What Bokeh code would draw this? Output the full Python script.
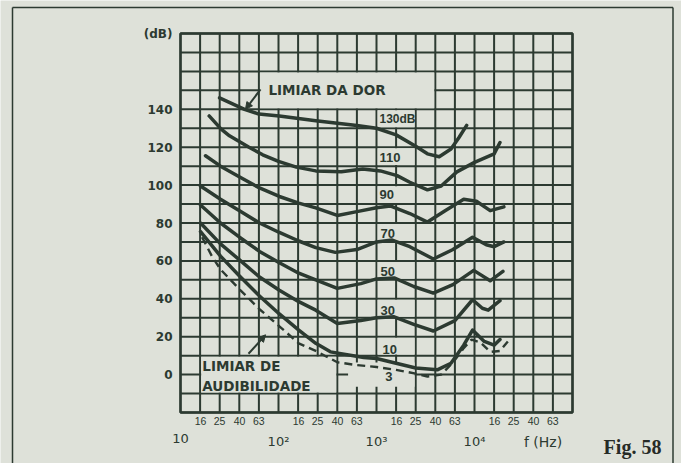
from bokeh.plotting import figure
from bokeh.models import Arrow, NormalHead
from bokeh.core.properties import value
from bokeh.embed import file_html
from bokeh.resources import INLINE

BG = "#dee1d9"
INK = "#2c3a31"

# ---------------- data (frequency in Hz, level in dB) ----------------
f_130 = [25, 45, 63, 102, 240, 631, 1000, 1585, 2512, 3311, 4365, 5754, 6918, 8318]
db_130 = [146, 140, 137.5, 136.5, 134, 131.5, 130, 126.5, 120.5, 116.5, 115, 119, 125, 131.5]

f_110 = [19.6, 26, 31.6, 50, 69, 100, 152, 240, 437, 724, 1096, 1622, 2188, 3311, 4571, 6607, 10000, 15849, 18197]
db_110 = [136.5, 129.5, 126, 120, 116, 112.5, 109.5, 107.5, 107, 108.5, 107.5, 105, 101.5, 97.5, 99.5, 107, 112, 116.5, 122.5]

f_90 = [18, 25.6, 41, 64, 102, 161, 240, 398, 631, 1000, 1380, 2188, 3311, 5012, 7762, 10471, 14454, 19953]
db_90 = [115.5, 110, 104, 98.5, 94, 90.5, 88, 84, 86, 88, 89, 85, 80.5, 86.5, 92.5, 91.5, 86.5, 88.5]

f_70 = [16, 25.6, 40, 64, 102, 161, 240, 380, 631, 1000, 1445, 2188, 3802, 6026, 9550, 13183, 15849, 19953]
db_70 = [99.5, 92.5, 86.5, 80, 75, 70.5, 67, 64.5, 66, 70, 71, 67.5, 61, 66, 72.5, 68.5, 67.5, 70]

f_50 = [16, 25.6, 40, 64, 102, 161, 240, 398, 692, 1000, 1514, 2399, 3802, 6026, 9817, 14454, 19500]
db_50 = [89.5, 80, 72.5, 65, 59, 53.5, 50, 45.5, 48, 50.5, 51, 46.5, 43, 47.5, 55, 49.5, 54.5]

f_30 = [16, 25.6, 40, 64, 102, 161, 240, 398, 692, 1000, 1514, 2399, 3802, 6310, 9550, 12023, 13804, 18197]
db_30 = [80, 69, 60.5, 51.5, 44.5, 38.5, 34, 27, 28.5, 30, 30.5, 26.5, 23, 28.5, 39.5, 35, 34, 39]

f_10 = [16, 25.6, 40, 64, 102, 161, 240, 339, 741, 1000, 1585, 2512, 4169, 5754, 7762, 9550, 12589, 15849, 18197]
db_10 = [75.5, 62.5, 52, 41.5, 32, 23.5, 16.5, 12, 9, 8.5, 6, 3.5, 2.5, 6, 15.5, 23.5, 17.5, 15.5, 18.5]

# threshold of hearing (dashed)
f_3 = [16.6, 20.9, 25.6, 40, 64, 102, 161, 240, 398, 631, 1000, 1585, 2512, 3311, 4571, 6166, 7762, 9333, 11482, 14454, 18197, 21878]
db_3 = [72.5, 62.5, 55.5, 45, 34.5, 25.5, 16.5, 12.5, 6.5, 5, 4, 2.5, 0.5, -1, 0, 7, 14, 18.5, 17, 12, 12.5, 17.5]

solid_f = [f_130, f_110, f_90, f_70, f_50, f_30, f_10]
solid_db = [db_130, db_110, db_90, db_70, db_50, db_30, db_10]

curve_labels = ["130dB", "110", "90", "70", "50", "30", "10", "3"]
curve_label_f = [1072, 1072, 1072, 1100, 1100, 1100, 1150, 1230]
curve_label_db = [135, 114.5, 95, 74.5, 54.5, 34, 13.5, -1]

# tick labels
minor_tick_f = [16, 25, 40, 63, 160, 250, 400, 630, 1600, 2500, 4000, 6300,
                16000, 25000, 40000, 63000]
minor_tick_text = ["16", "25", "40", "63"] * 4
decade_tick_f = [10, 100, 1000, 10000]
decade_tick_text = ["10", "10²", "10³", "10⁴"]
y_ticks = [0, 20, 40, 60, 80, 100, 120, 140, 180]
y_tick_text = ["0", "20", "40", "60", "80", "100", "120", "140", "(dB)"]

F_MIN, F_MAX = 10, 100000
DB_MIN, DB_MAX = -20, 180
grid_f = [10 ** (1 + 0.2 * k) for k in range(21)]
grid_db = list(range(DB_MIN, DB_MAX + 1, 10))

# blank boxes behind lettering (Hz left, Hz right, dB bottom, dB top)
boxes = [(63.1, 3981, 140, 160), (15.85, 398.1, -10, 10), (500, 2512, -7, 7)]
boxes += [(1000, 2512, b, b + 10) for b in [130, 110, 90, 70, 50, 30, 10]]

# ---------------- layout of the page (pixels) ----------------
W, H = 681, 463
G_LEFT, G_RIGHT, G_TOP, G_BOTTOM = 180, 572, 33, 412
PX_DEC = (G_RIGHT - G_LEFT) / 4.0          # pixels per decade
PX_DB = (G_BOTTOM - G_TOP) / 200.0         # pixels per dB


def px_to_f(px):
    return 10 ** (1 + (px - G_LEFT) / PX_DEC)


def px_to_db(py):
    return DB_MIN + (G_BOTTOM - py) / PX_DB


p = figure(width=W, height=H, x_axis_type="log",
           x_range=(px_to_f(0), px_to_f(W)), y_range=(px_to_db(H), px_to_db(0)),
           x_axis_location=None, y_axis_location=None,
           output_backend="svg", toolbar_location=None, min_border=0,
           background_fill_color=BG, border_fill_color=BG)
p.outline_line_color = None
p.grid.visible = False

# outer page frame
p.segment(x0=[px_to_f(12), px_to_f(12), px_to_f(672.5)],
          y0=[px_to_db(7), px_to_db(7), px_to_db(7)],
          x1=[px_to_f(672.5), px_to_f(12), px_to_f(672.5)],
          y1=[px_to_db(7), px_to_db(H + 5), px_to_db(H + 5)],
          line_color=INK, line_width=1.5)

# grid
p.segment(x0=grid_f, x1=grid_f, y0=[DB_MIN] * len(grid_f), y1=[DB_MAX] * len(grid_f),
          line_color=INK, line_width=2)
p.segment(x0=[F_MIN] * len(grid_db), x1=[F_MAX] * len(grid_db), y0=grid_db, y1=grid_db,
          line_color=INK, line_width=2)
# outer box of the grid, slightly heavier
p.quad(left=[F_MIN], right=[F_MAX], bottom=[DB_MIN], top=[DB_MAX],
       fill_color=None, line_color=INK, line_width=2.4)

# blank boxes (drawn above the grid, below the curves)
pad_dec = 0.011
pad_db = 0.55
p.quad(left=[b[0] * 10 ** pad_dec for b in boxes], right=[b[1] / 10 ** pad_dec for b in boxes],
       bottom=[b[2] + pad_db for b in boxes], top=[b[3] - pad_db for b in boxes],
       fill_color=BG, line_color=None)

# curves
for fx, dy in zip(solid_f, solid_db):
    p.line(fx, dy, line_color=INK, line_width=3.5, line_join="round", line_cap="round")
p.line(f_3, db_3, line_color=INK, line_width=2.4, line_dash="8 5")

# tick labels
p.text(x=[F_MIN] * len(y_ticks), y=y_ticks, text=y_tick_text, x_offset=-8,
       text_font=value("DejaVu Sans"), text_font_style="bold", text_font_size="12px",
       text_color=INK, text_align="right", text_baseline="middle")
p.text(x=minor_tick_f, y=[DB_MIN] * len(minor_tick_f), text=minor_tick_text, y_offset=4,
       text_font=value("Liberation Sans"), text_font_size="10.5px",
       text_color=INK, text_align="center", text_baseline="top")
p.text(x=decade_tick_f, y=[DB_MIN] * len(decade_tick_f), text=decade_tick_text, y_offset=21,
       text_font=value("DejaVu Sans"), text_font_size="13px",
       text_color=INK, text_align="center", text_baseline="top")
p.text(x=[50000], y=[DB_MIN], text=["f (Hz)"], y_offset=21,
       text_font=value("DejaVu Sans"), text_font_size="14px",
       text_color=INK, text_align="center", text_baseline="top")

# curve labels
p.text(x=curve_label_f[:1], y=curve_label_db[:1], text=curve_labels[:1],
       text_font=value("Liberation Sans"), text_font_style="bold", text_font_size="12px",
       text_color=INK, text_align="left", text_baseline="middle")
p.text(x=curve_label_f[1:], y=curve_label_db[1:], text=curve_labels[1:],
       text_font=value("Liberation Sans"), text_font_style="bold", text_font_size="13px",
       text_color=INK, text_align="left", text_baseline="middle")

# region labels
p.text(x=[79, 16.7, 16.7], y=[150, 4.5, -6], text=["LIMIAR DA DOR", "LIMIAR DE", "AUDIBILIDADE"],
       text_font=value("DejaVu Sans"), text_font_style="bold", text_font_size="13.5px",
       text_color=INK, text_align="left", text_baseline="middle")

arrow_pain = (65.5, 150.5, 46, 140)
arrow_aud = (49.4, 11, 73.8, 21)
for a in (arrow_pain, arrow_aud):
    p.add_layout(Arrow(end=NormalHead(size=7, fill_color=INK, line_color=INK, line_width=1),
                       x_start=a[0], y_start=a[1], x_end=a[2], y_end=a[3],
                       line_color=INK, line_width=2))

# figure caption
p.text(x=[F_MAX], y=[DB_MIN], text=["Fig. 58"], x_offset=60, y_offset=34,
       text_font=value("Liberation Serif"), text_font_style="bold", text_font_size="20px",
       text_color="#262b27", text_align="center", text_baseline="middle")

open("out.html", "w").write(file_html(p, INLINE))
